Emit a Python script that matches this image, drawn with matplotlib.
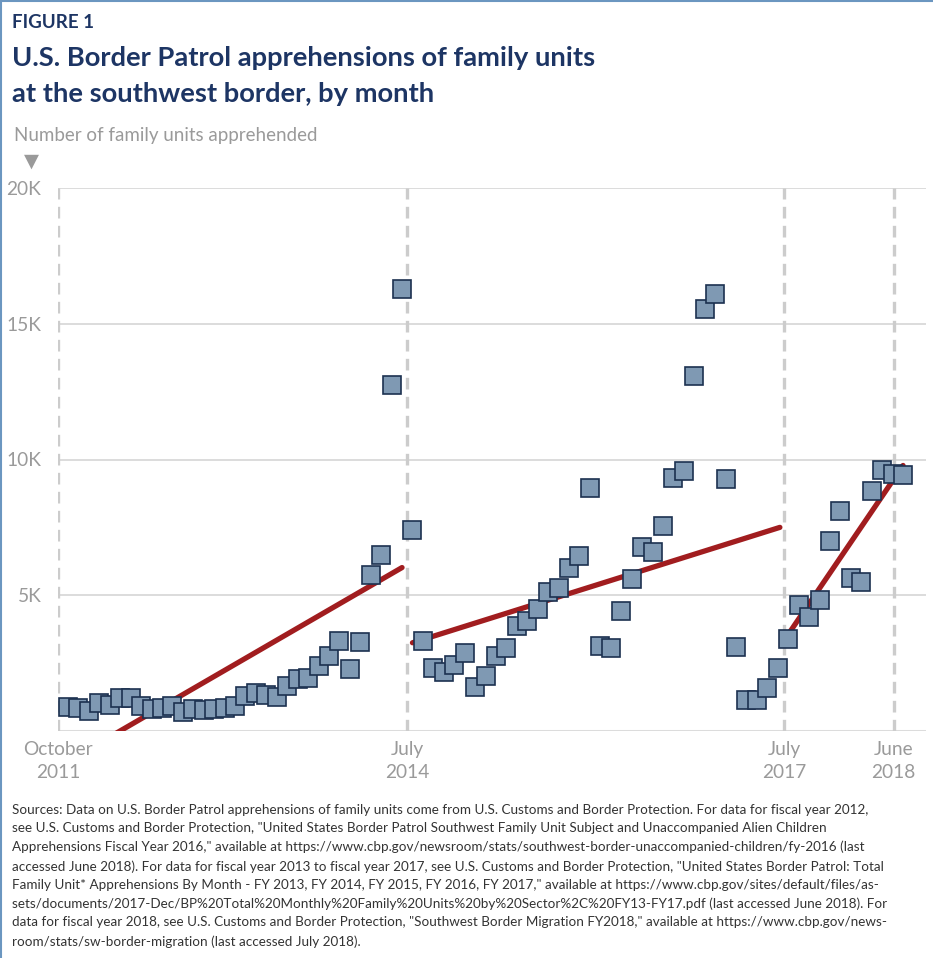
import numpy as np
import matplotlib.pyplot as plt
from matplotlib.lines import Line2D

# monthly family unit apprehensions, Oct 2011 .. Jun 2018 (index 0 = Oct 2011)
fy_part1 = [890, 860, 735, 1040, 945, 1225, 1213, 930, 800, 860, 910, 710,
            800, 770, 800, 860, 930, 1300, 1385, 1320, 1260, 1655, 1910, 1950,
            2400, 2780, 3310, 2280, 3270, 5735, 6495, 12750, 16280, 7390]
fy_part2 = [3310, 2305, 2160, 2425, 2890, 1630, 2035, 2770, 3075, 3860, 4045, 4485,
            5120, 5270, 6020, 6460, 8945, 3140, 3040, 4435, 5600, 6765, 6605, 7535,
            9330, 9570, 13080, 15540, 16090, 9265, 3110, 1140, 1140, 1590, 2330]
fy_part3 = [3380, 4630, 4200, 4830, 7000, 8100, 5650, 5470, 8850, 9630, 9450, 9420]
values = fy_part1 + fy_part2 + fy_part3
months = np.arange(len(values))

# trend segments: (start month, end month), (start value, end value)
trend_x = [(0, 32), (33, 68.2), (69.1, 80)]
trend_y = [(-1110, 6020), (3250, 7500), (3615, 9780)]

tick_pos = [-0.96, 32.5, 68.6, 79.1]
tick_labels = ['October\n2011', 'July\n2014', 'July\n2017', 'June\n2018']
y_ticks = [5000, 10000, 15000, 20000]
y_labels = ['5K', '10K', '15K', '20K']

W, H = 933, 958
fig = plt.figure(figsize=(W / 100, H / 100), dpi=100)
plt.rcParams['font.family'] = ['Lato', 'DejaVu Sans']

navy = '#1d3564'
grey = '#9a9a9a'

def fx(px):
    return px / W

def fy(py):
    return 1 - py / H

ax = fig.add_axes([fx(58), fy(731), fx(926) - fx(58), fy(188) - fy(731)])
ax.set_xlim(-0.96, 82.2)
ax.set_ylim(0, 20000)
for s in ax.spines.values():
    s.set_visible(False)

for yv in y_ticks:
    ax.axhline(yv, color='#d2d2d2', lw=1.1, zorder=1)
ax.axhline(0, color='#dcdcdc', lw=2.2, zorder=1)
for xv in tick_pos:
    ax.axvline(xv, color='#cccccc', lw=2.4, ls=(0, (3.5, 2.2)), zorder=1)

for (x0, x1), (y0, y1) in zip(trend_x, trend_y):
    ax.plot([x0, x1], [y0, y1], color='#a11d1f', lw=3.8, solid_capstyle='round', zorder=3)

ax.plot(months, values, ls='none', marker='s', ms=12.5, mfc='#7f99b3', mec='#1c3150',
        mew=1.2, zorder=4, clip_on=False)

ax.set_yticks(y_ticks)
ax.set_yticklabels(y_labels)
ax.set_xticks(tick_pos)
ax.set_xticklabels(tick_labels, linespacing=1.45)
ax.tick_params(length=0, labelsize=13.8, labelcolor=grey)
ax.tick_params(axis='y', pad=12)
ax.tick_params(axis='x', pad=7)

fig.text(fx(12), fy(22), 'FIGURE 1', fontsize=13.5, fontweight='bold', color=navy, va='center')
fig.text(fx(12), fy(58), 'U.S. Border Patrol apprehensions of family units', fontsize=19.7,
         fontweight='bold', color=navy, va='center')
fig.text(fx(12), fy(94), 'at the southwest border, by month', fontsize=19.7,
         fontweight='bold', color=navy, va='center')
fig.text(fx(14), fy(136), 'Number of family units apprehended', fontsize=13.5, color=grey, va='center')
fig.text(fx(31), fy(161), '\u25bc', fontsize=14, color=grey, va='center', ha='center')

sources = ('Sources: Data on U.S. Border Patrol apprehensions of family units come from U.S. Customs and Border Protection. For data for fiscal year 2012,\n'
           'see U.S. Customs and Border Protection, "United States Border Patrol Southwest Family Unit Subject and Unaccompanied Alien Children\n'
           'Apprehensions Fiscal Year 2016," available at https://www.cbp.gov/newsroom/stats/southwest-border-unaccompanied-children/fy-2016 (last\n'
           'accessed June 2018). For data for fiscal year 2013 to fiscal year 2017, see U.S. Customs and Border Protection, "United States Border Patrol: Total\n'
           'Family Unit* Apprehensions By Month - FY 2013, FY 2014, FY 2015, FY 2016, FY 2017," available at https://www.cbp.gov/sites/default/files/as-\n'
           'sets/documents/2017-Dec/BP%20Total%20Monthly%20Family%20Units%20by%20Sector%2C%20FY13-FY17.pdf (last accessed June 2018). For\n'
           'data for fiscal year 2018, see U.S. Customs and Border Protection, "Southwest Border Migration FY2018," available at https://www.cbp.gov/news-\n'
           'room/stats/sw-border-migration (last accessed July 2018).')
fig.text(fx(12), fy(804), sources, fontsize=9.7, color='#333333', va='top', linespacing=1.63)

# frame edges on the left and top
fig.add_artist(Line2D([0.001, 0.001], [0, 1], color='#6b96c0', lw=1.5, transform=fig.transFigure))
fig.add_artist(Line2D([0, 1], [0.999, 0.999], color='#6b96c0', lw=1.5, transform=fig.transFigure))

fig.savefig('out.png', dpi=100)
